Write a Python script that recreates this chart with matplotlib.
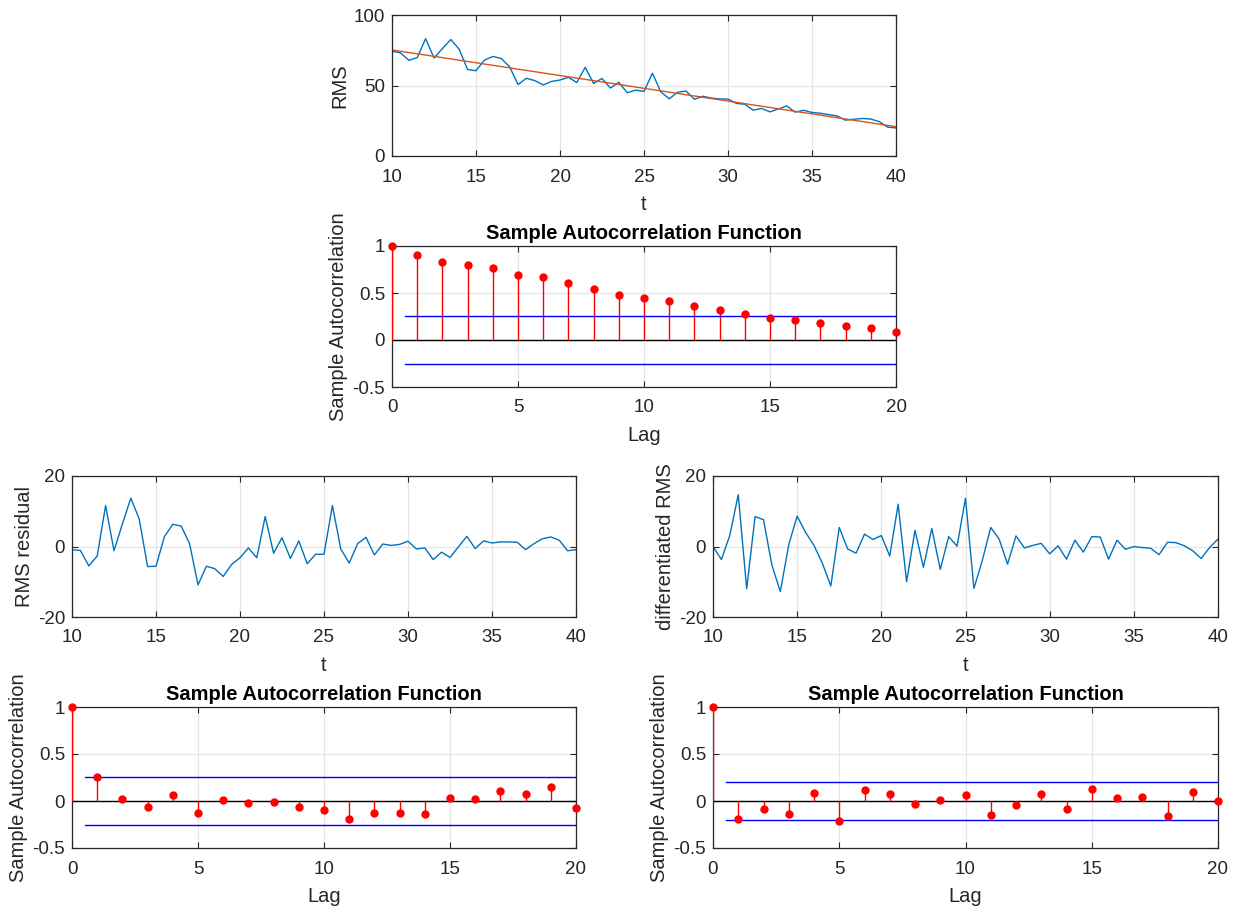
import numpy as np
import matplotlib
matplotlib.use("Agg")
import matplotlib.pyplot as plt

plt.rcParams['font.family'] = ['Liberation Sans', 'DejaVu Sans']
plt.rcParams['axes.unicode_minus'] = False

# ---- data -------------------------------------------------------------
t = [10 + 0.5 * k for k in range(61)]

rms = [74.3, 73.2, 67.9, 69.8, 83.2, 69.5, 76.2, 82.6, 75.7, 61.3,
       60.5, 68.0, 70.6, 69.2, 63.3, 50.7, 55.1, 53.5, 50.4, 52.9,
       53.9, 55.8, 52.1, 62.9, 51.5, 55.0, 48.2, 52.3, 44.9, 46.7,
       45.8, 58.7, 45.5, 40.6, 45.2, 46.1, 40.2, 42.4, 41.1, 40.5,
       40.4, 37.3, 36.7, 32.5, 33.7, 31.3, 33.4, 35.5, 31.1, 32.4,
       30.9, 30.3, 29.4, 28.4, 25.4, 26.1, 26.6, 26.2, 24.4, 20.5,
       19.9]

# linear trend endpoints (value at t=10 and t=40)
trend_ends = [75.2, 20.8]

rms_residual = [-0.95, -1.1, -5.5, -2.7, 11.6, -1.2, 6.4, 13.7, 7.8, -5.7,
                -5.6, 2.8, 6.3, 5.8, 0.8, -10.9, -5.6, -6.3, -8.5, -5.1,
                -3.2, -0.4, -3.2, 8.5, -1.9, 2.5, -3.4, 1.6, -4.9, -2.2,
                -2.2, 11.6, -0.7, -4.7, 0.8, 2.6, -2.4, 0.7, 0.3, 0.6,
                1.5, -0.7, -0.4, -3.7, -1.6, -3.1, -0.1, 2.9, -0.6, 1.6,
                1.0, 1.3, 1.3, 1.2, -0.9, 0.8, 2.2, 2.7, 1.8, -1.2,
                -0.9]

rms_diff = [0.0, -3.7, 3.2, 14.7, -12.0, 8.5, 7.6, -5.3, -12.8, 0.5,
            8.6, 4.0, 0.3, -4.8, -11.2, 5.4, -0.7, -1.9, 3.5, 2.0,
            3.1, -2.7, 12.0, -10.0, 4.6, -5.9, 5.1, -6.5, 2.8, 0.1,
            13.7, -11.9, -3.9, 5.4, 2.1, -5.0, 3.0, -0.4, 0.3, 0.9,
            -2.1, 0.2, -3.6, 1.8, -1.6, 2.8, 2.7, -3.6, 1.8, -0.8,
            0.0, -0.3, -0.5, -2.3, 1.2, 1.1, 0.2, -1.2, -3.4, -0.3,
            2.1]

lags = list(range(21))

acf_rms = [1.0, 0.90, 0.834, 0.795, 0.770, 0.696, 0.668, 0.608, 0.544, 0.484,
           0.449, 0.410, 0.367, 0.318, 0.272, 0.237, 0.212, 0.184, 0.148, 0.131,
           0.085]
acf_residual = [1.0, 0.258, 0.018, -0.06, 0.06, -0.13, 0.007, -0.025, -0.01, -0.06,
                -0.095, -0.19, -0.13, -0.124, -0.134, 0.032, 0.021, 0.106, 0.078, 0.148,
                -0.074]
acf_diff = [1.0, -0.19, -0.081, -0.141, 0.088, -0.215, 0.117, 0.078, -0.028, 0.011,
            0.064, -0.152, -0.042, 0.078, -0.085, 0.124, 0.028, 0.039, -0.155, 0.099,
            -0.004]

bound_rms = 0.254
bound_residual = 0.254
bound_diff = 0.20

# ---- styling helpers --------------------------------------------------
BLUE = '#0072BD'
ORANGE = '#D95319'
AXC = '#262626'
GRID = '#E6E6E6'
TICK_FS = 13.5
LABEL_FS = 14.5
TITLE_FS = 14.5


def style_axes(ax):
    for s in ax.spines.values():
        s.set_color(AXC)
        s.set_linewidth(0.9)
    ax.tick_params(direction='in', length=4, width=0.8, colors=AXC,
                   labelsize=TICK_FS, top=True, right=True)
    ax.tick_params(axis='x', pad=9)
    ax.tick_params(axis='y', pad=5)
    ax.grid(True, color=GRID, linewidth=0.9)
    ax.set_axisbelow(True)


def series_plot(ax, x, y, ylim, yticks, ylabel):
    ax.plot(x, y, color=BLUE, linewidth=1.0)
    ax.set_xlim(10, 40)
    ax.set_xticks(range(10, 41, 5))
    ax.set_ylim(*ylim)
    ax.set_yticks(yticks)
    ax.set_xlabel('t', fontsize=LABEL_FS, color=AXC, labelpad=7)
    ax.set_ylabel(ylabel, fontsize=LABEL_FS, color=AXC, labelpad=3)
    style_axes(ax)


def acf_plot(ax, lag, acf, bound):
    ax.axhline(0, color='black', linewidth=1.0, zorder=2)
    ax.vlines(lag, 0, acf, color='red', linewidth=1.0, zorder=3)
    ax.plot(lag, acf, 'o', color='red', markersize=5, zorder=4, clip_on=False)
    ax.plot([0.5, lag[-1]], [bound, bound], color='blue', linewidth=1.0, zorder=3)
    ax.plot([0.5, lag[-1]], [-bound, -bound], color='blue', linewidth=1.0, zorder=3)
    ax.set_xlim(0, 20)
    ax.set_xticks(range(0, 21, 5))
    ax.set_ylim(-0.5, 1)
    ax.set_yticks([-0.5, 0, 0.5, 1])
    ax.set_yticklabels(['-0.5', '0', '0.5', '1'])
    ax.set_xlabel('Lag', fontsize=LABEL_FS, color=AXC, labelpad=7)
    ax.set_ylabel('Sample Autocorrelation', fontsize=LABEL_FS, color=AXC, labelpad=3)
    ax.set_title('Sample Autocorrelation Function', fontsize=TITLE_FS,
                 fontweight='bold', pad=5)
    style_axes(ax)


# ---- figure -----------------------------------------------------------
W, H = 1236, 908
fig = plt.figure(figsize=(W / 100, H / 100), dpi=100)


def add_axes(left, top, right, bottom):
    return fig.add_axes([left / W, 1 - bottom / H, (right - left) / W, (bottom - top) / H])


ax_rms = add_axes(392, 15, 896, 156)
series_plot(ax_rms, t, rms, (0, 100), [0, 50, 100], 'RMS')
ax_rms.plot([t[0], t[-1]], trend_ends, color=ORANGE, linewidth=1.0)

ax_acf1 = add_axes(392, 246, 896, 387)
acf_plot(ax_acf1, lags, acf_rms, bound_rms)

ax_res = add_axes(72, 476, 576, 617)
series_plot(ax_res, t, rms_residual, (-20, 20), [-20, 0, 20], 'RMS residual')

ax_dif = add_axes(713, 476, 1218, 617)
series_plot(ax_dif, t, rms_diff, (-20, 20), [-20, 0, 20], 'differentiated RMS')

ax_acf2 = add_axes(72, 707, 576, 848)
acf_plot(ax_acf2, lags, acf_residual, bound_residual)

ax_acf3 = add_axes(713, 707, 1218, 848)
acf_plot(ax_acf3, lags, acf_diff, bound_diff)

fig.savefig('out.png', dpi=100)
